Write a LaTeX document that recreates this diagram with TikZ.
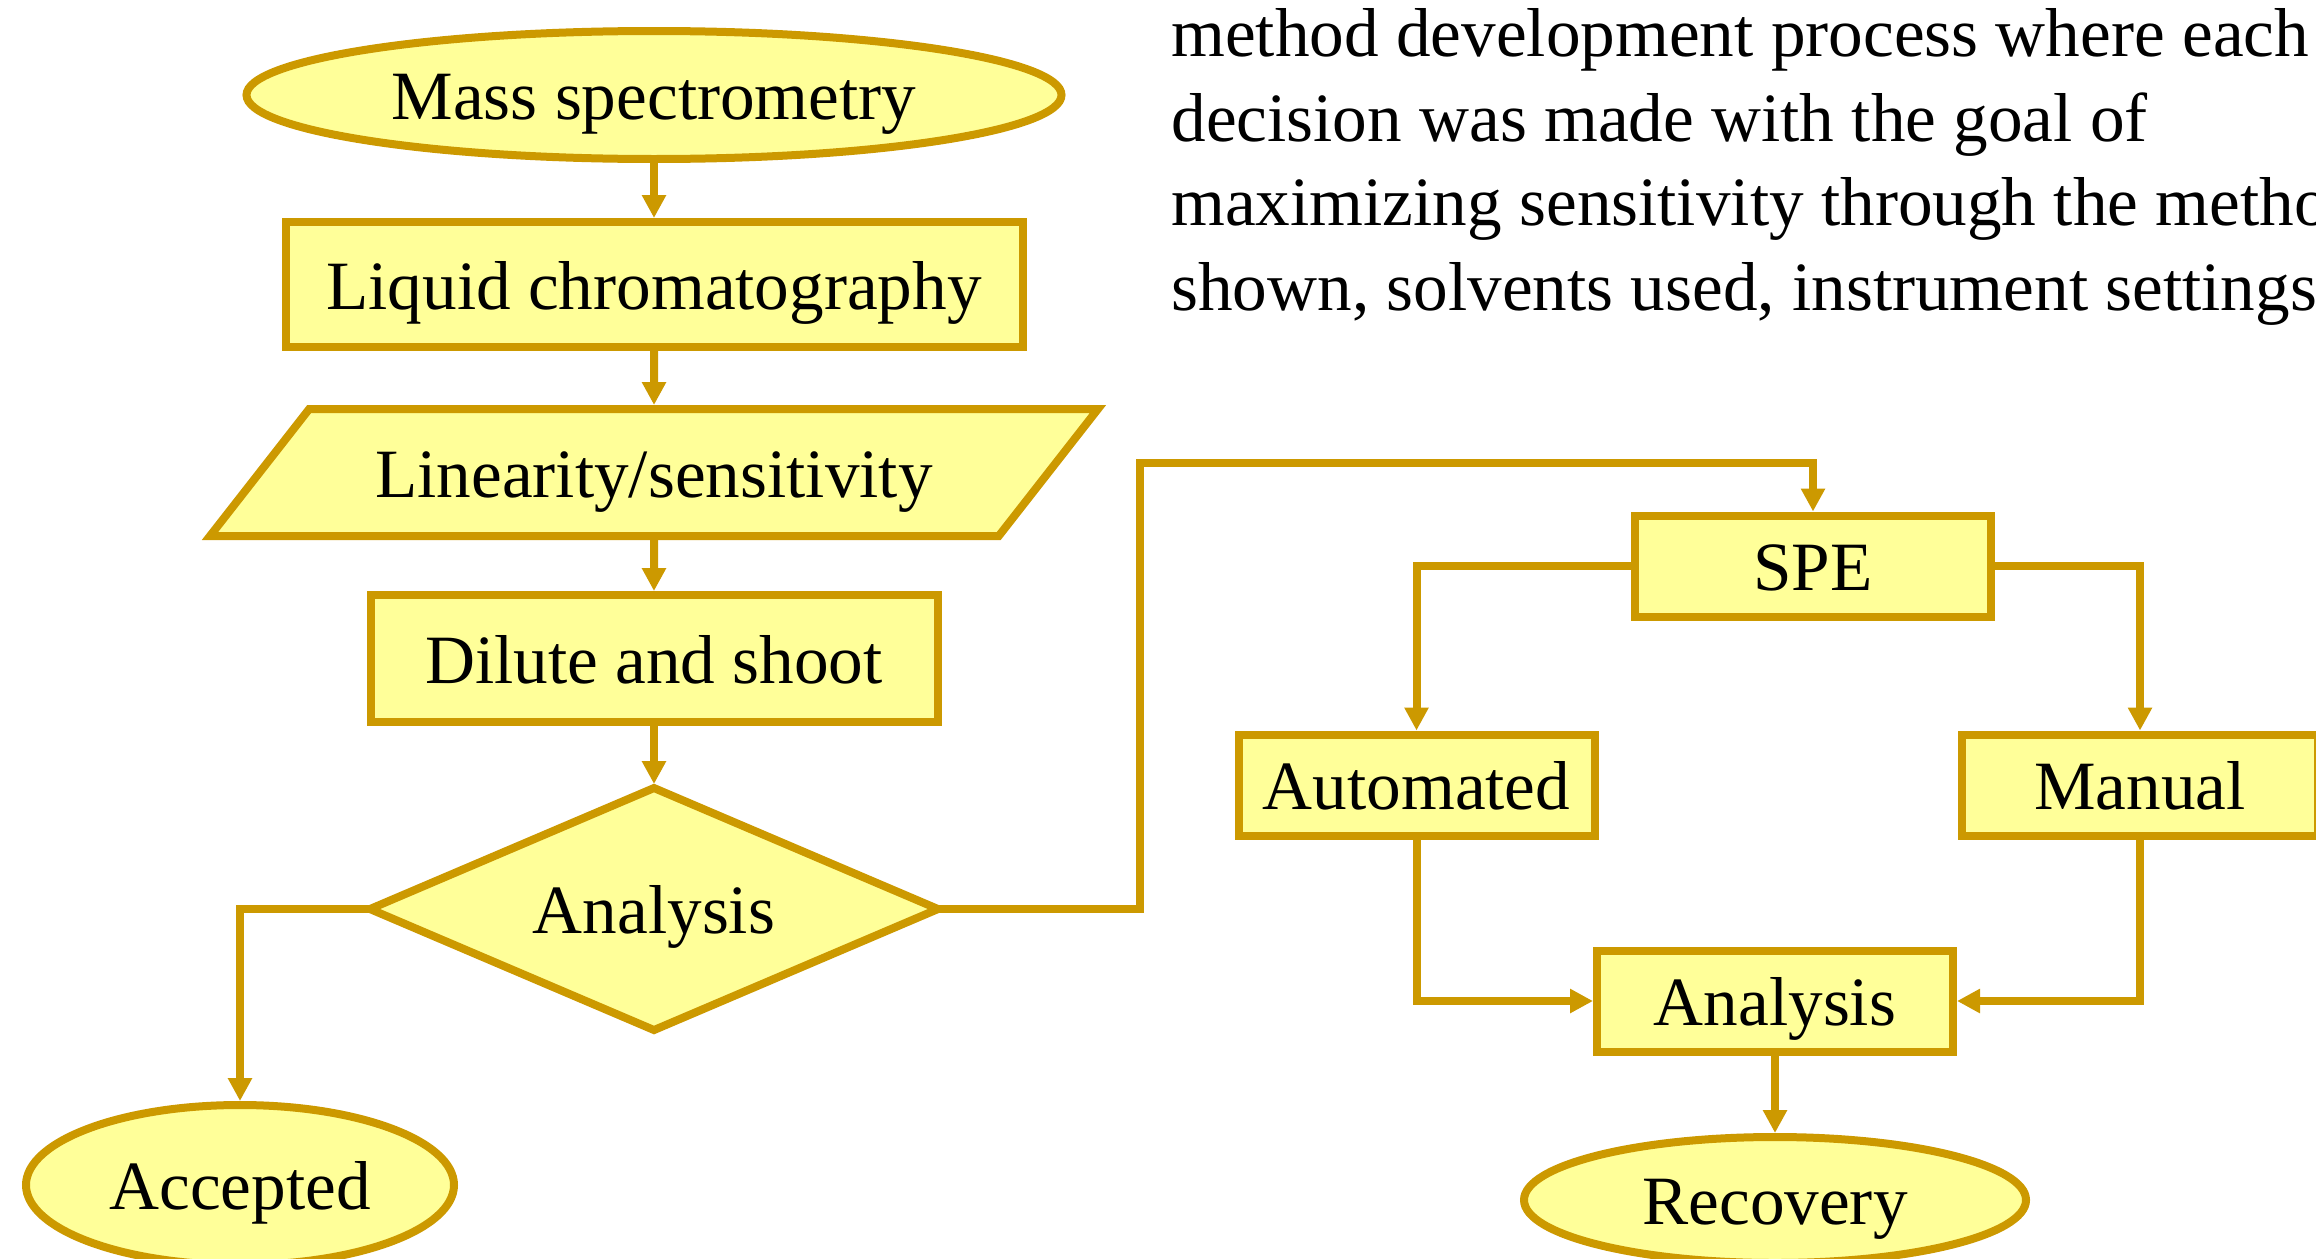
\documentclass[tikz,border=0pt]{standalone}
\usepackage{fontspec}
\setmainfont{Liberation Serif}
\usetikzlibrary{shapes,positioning,arrows.meta,calc}
\definecolor{gold}{RGB}{204,153,0}
\definecolor{lemon}{RGB}{255,255,153}

\begin{document}
\begin{tikzpicture}[every node/.style={font=\fontsize{34.6pt}{42pt}\selectfont},
	boxbase/.style={draw=gold, fill=lemon, line width=4pt, inner sep=2pt, outer sep=0pt, text height=29.5pt, text depth=4.9pt},
	procbox/.style={boxbase, rectangle},
	endcap/.style={boxbase, ellipse},
	decide/.style={boxbase, diamond, aspect=2.35},
	slant/.style={boxbase, trapezium, trapezium left angle=52, trapezium right angle=128, trapezium stretches body, inner ysep=14.55pt},
	flow/.style={draw=gold, line width=4pt, -{Triangle[length=11.5pt,width=11.5pt]}, shorten >=2pt}]
					\useasboundingbox (0,0) rectangle (1158pt,-629pt);
					
					\node[endcap, minimum width=407.5pt, minimum height=64pt] (mass) at (327pt,-47.5pt) {Mass spectrometry};
					\node[procbox, minimum width=368.5pt, minimum height=62.5pt, below=31.5pt of mass] (lc) {Liquid chromatography};
					\node[slant, minimum width=444pt, below=31pt of lc] (lin) {Linearity/sensitivity};
					\node[procbox, minimum width=283.5pt, minimum height=63.5pt, below=29.5pt of lin] (dilute) {Dilute and shoot};
					\node[decide, minimum width=284pt, minimum height=121pt, below=33pt of dilute] (analysis) {Analysis};
					\node[endcap, minimum width=214pt, minimum height=80pt] (accepted) at (120pt,-592.5pt) {Accepted};
					
					\coordinate (bend) at (570pt,-231.5pt);
					\node[procbox, minimum width=178pt, minimum height=50.5pt] (spe) at (906.5pt,-283pt) {SPE};
					\node[procbox, minimum width=178pt, minimum height=50.5pt, below left=59pt and 20.25pt of spe] (auto) {Automated};
					\node[procbox, minimum width=178pt, minimum height=50.5pt, right=183.75pt of auto] (manual) {Manual};
					\node[procbox, minimum width=178pt, minimum height=50.5pt, below=167pt of spe, xshift=-19pt] (check) {Analysis};
					\node[endcap, minimum width=251pt, minimum height=63pt, below=42.75pt of check] (recovery) {Recovery};
					
					\node[anchor=base west, inner sep=0pt] (t1) at (585.5pt,-28.3pt) {method development process where each};
					\node[anchor=base west, inner sep=0pt] (t2) at (585.5pt,-70.5pt) {decision was made with the goal of};
					\node[anchor=base west, inner sep=0pt] (t3) at (585.5pt,-112.8pt) {maximizing sensitivity through the method};
					\node[anchor=base west, inner sep=0pt] (t4) at (585.5pt,-155pt) {shown, solvents used, instrument settings};
					
					\draw[flow] (mass) -- (lc);
					\draw[flow] (lc) -- (lin);
					\draw[flow] (lin) -- (dilute);
					\draw[flow] (dilute) -- (analysis);
					\draw[flow] (analysis.west) -| (accepted.north);
					\draw[flow] (analysis.east) -| (bend) -| (spe.north);
					
					\draw[flow] (spe.west) -| (auto.north);
					\draw[flow] (spe.east) -| (manual.north);
					\draw[flow] (auto.south) |- (check.west);
					\draw[flow] (manual.south) |- (check.east);
					\draw[flow] (check) -- (recovery);
				\end{tikzpicture}
\end{document}
